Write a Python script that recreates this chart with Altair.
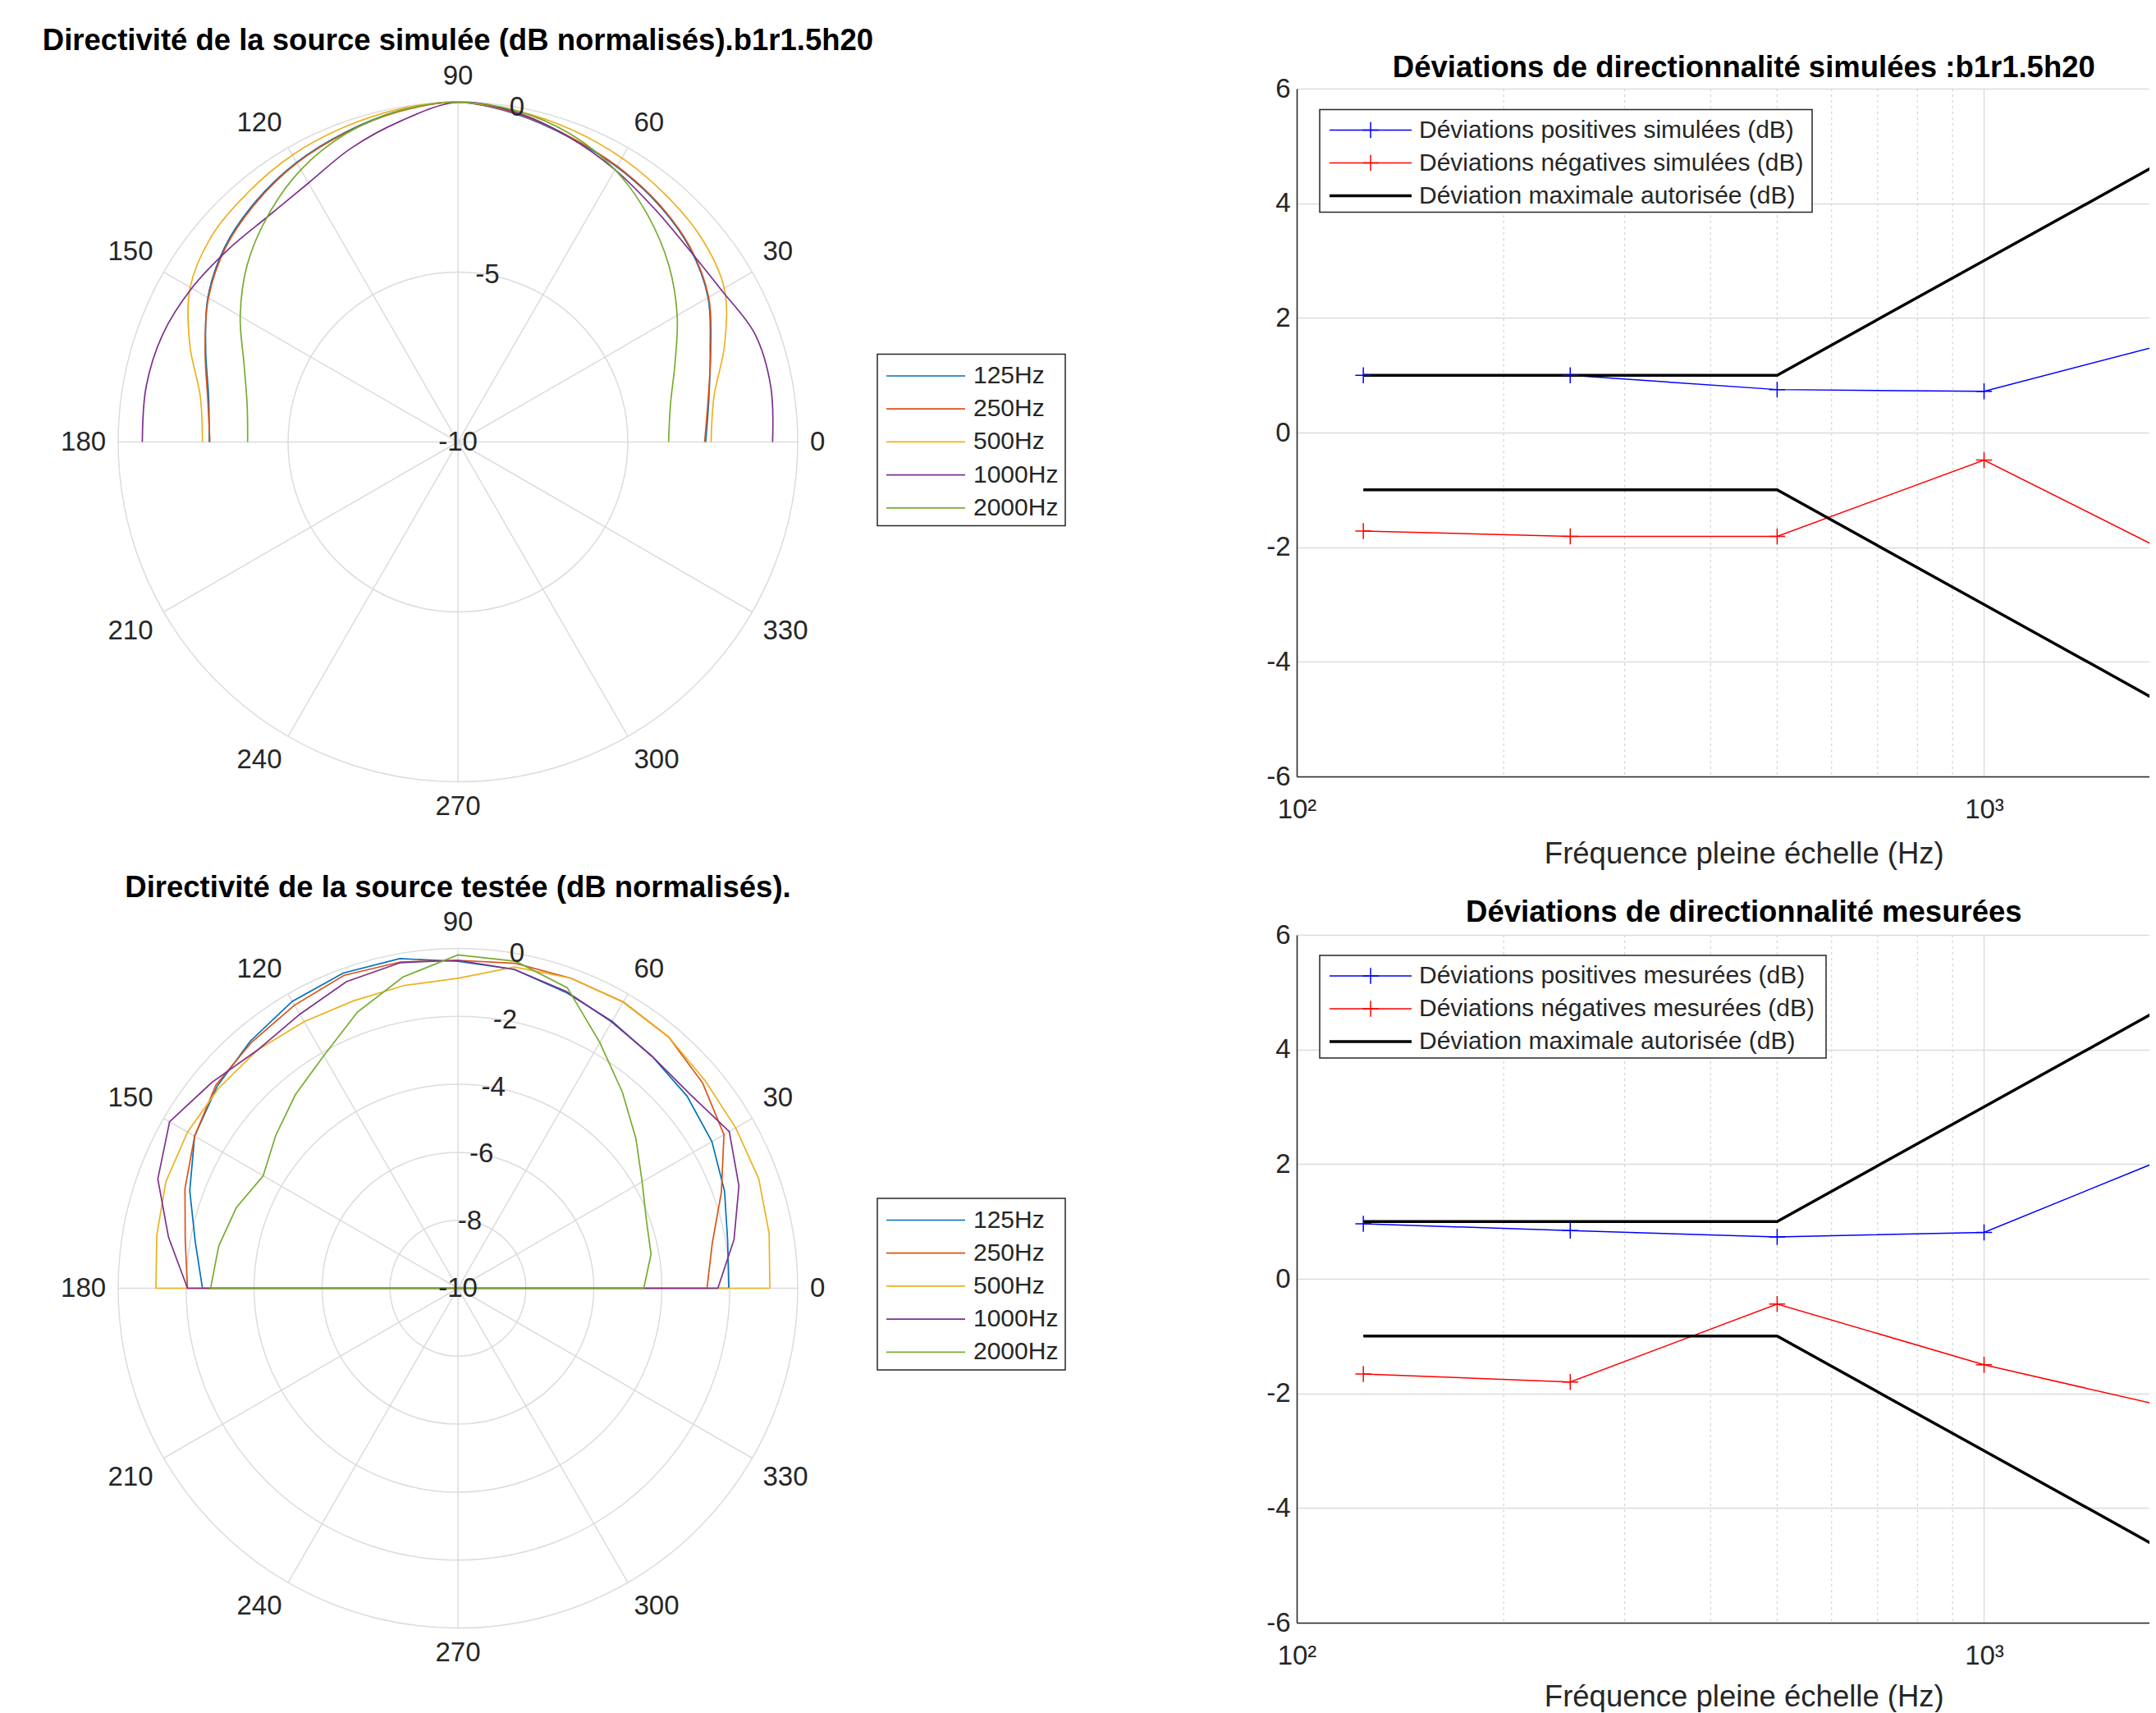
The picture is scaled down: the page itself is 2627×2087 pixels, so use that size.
import math
import altair as alt
import pandas as pd

FONT = "Liberation Sans"
TXT = "#262626"
TITLE_C = "#000000"
GRID = "#dcdcdc"
MINOR = "#d4d4d4"

# ---------------- polar data (dB normalisés, angle in degrees) ----------------
angles = list(range(0, 181, 10))
freq_labels = ["125Hz", "250Hz", "500Hz", "1000Hz", "2000Hz"]
freq_colors = ["#0072BD", "#D95319", "#EDB120", "#7E2F8E", "#77AC30"]

sim_125 = [-2.71, -2.50, -2.10, -1.50, -1.10, -0.85, -0.65, -0.45, -0.20, 0.00,
           -0.10, -0.30, -0.50, -0.75, -1.05, -1.50, -2.10, -2.55, -2.68]
sim_250 = [-2.74, -2.52, -2.08, -1.48, -1.08, -0.83, -0.63, -0.43, -0.18, 0.00,
           -0.12, -0.32, -0.52, -0.78, -1.08, -1.52, -2.08, -2.52, -2.70]
sim_500 = [-2.55, -2.35, -1.65, -0.95, -0.65, -0.50, -0.35, -0.22, -0.10, 0.00,
           -0.05, -0.15, -0.25, -0.40, -0.55, -0.90, -1.60, -2.30, -2.48]
sim_1000 = [-0.74, -0.65, -0.70, -1.05, -1.15, -1.02, -0.75, -0.45, -0.15, 0.00,
            -0.40, -0.80, -1.20, -1.32, -1.18, -0.95, -0.75, -0.68, -0.71]
sim_2000 = [-3.80, -3.65, -3.20, -2.55, -1.90, -1.30, -0.75, -0.35, -0.10, 0.00,
            -0.10, -0.35, -0.75, -1.30, -1.90, -2.60, -3.30, -3.70, -3.81]

mes_125 = [-2.03, -1.94, -1.65, -1.37, -1.20, -1.10, -0.93, -0.73, -0.47, -0.38,
           -0.15, -0.13, -0.25, -0.50, -0.75, -1.05, -1.60, -2.15, -2.48]
mes_250 = [-2.67, -2.40, -1.75, -0.96, -0.60, -0.35, -0.27, -0.29, -0.29, -0.35,
           -0.25, -0.20, -0.38, -0.55, -0.70, -1.05, -1.45, -1.85, -2.04]
mes_500 = [-0.82, -0.70, -0.58, -0.56, -0.50, -0.35, -0.28, -0.29, -0.40, -0.88,
           -0.95, -1.00, -0.94, -0.84, -0.82, -0.81, -0.85, -1.00, -1.11]
mes_1000 = [-2.35, -1.75, -1.20, -0.78, -1.10, -1.10, -0.95, -0.70, -0.47, -0.35,
            -0.27, -0.40, -0.69, -0.84, -0.56, -0.20, -0.60, -1.35, -2.04]
mes_2000 = [-4.53, -4.23, -4.10, -3.74, -3.16, -2.47, -1.65, -0.59, -0.23, -0.19,
            -0.70, -1.35, -2.10, -2.56, -3.00, -3.38, -3.06, -2.85, -2.72]

spoke_angles = list(range(0, 360, 30))
sim_rticks = [-10, -5, 0]
mes_rticks = [-10, -8, -6, -4, -2, 0]

# ---------------- deviation data ----------------
dev_freqs = [125, 250, 500, 1000, 2000]
sim_pos = [1.00, 1.00, 0.75, 0.72, 1.66]
sim_neg = [-1.72, -1.81, -1.81, -0.48, -2.29]
mes_pos = [0.96, 0.84, 0.73, 0.81, 2.28]
mes_neg = [-1.66, -1.80, -0.44, -1.50, -2.33]
max_dev_hi = [1, 1, 1, 3, 5]
max_dev_lo = [-1, -1, -1, -3, -5]
minor_freqs = [200, 300, 400, 500, 600, 700, 800, 900, 2000]
x_ticks = [100, 1000]
y_ticks = [-6, -4, -2, 0, 2, 4, 6]

sim_legend = ["Déviations positives simulées (dB)",
              "Déviations négatives simulées (dB)",
              "Déviation maximale autorisée (dB)"]
mes_legend = ["Déviations positives mesurées (dB)",
              "Déviations négatives mesurées (dB)",
              "Déviation maximale autorisée (dB)"]
dev_colors = ["#0000FF", "#FF0000", "#000000"]

# ---------------- layout constants ----------------
K = 414.0            # pixels per unit radius
PW, PH = 1100, 838   # polar view
CX, CY = 550.0, 430.5
DW = 1039            # visible width of deviation view (cut at the page edge)
DECADE = 837.5
F_EDGE = 10 ** (2 + DW / DECADE)
X_FULL_CENTER = DECADE * (math.log10(2000) - 2) / 2
RLAB = 1.036
CROSS = "M-1,0L1,0M0,-1L0,1"


def polar(curves, rticks, title, title_offset, closed, legend_top, interp):
    xs = alt.Scale(domain=[-CX / K, (PW - CX) / K], nice=False, zero=False)
    ys = alt.Scale(domain=[-(PH - CY) / K, CY / K], nice=False, zero=False)

    def X(f):
        return alt.X(f, type="quantitative", scale=xs, axis=None)

    def Y(f):
        return alt.Y(f, type="quantitative", scale=ys, axis=None)

    rows = []
    for lab, vals in zip(freq_labels, curves):
        for i, (a, v) in enumerate(zip(angles, vals)):
            rows.append({"freq": lab, "angle": a, "db": v, "seq": i})
        if closed:
            rows.append({"freq": lab, "angle": angles[0], "db": vals[0], "seq": len(angles)})
    cdf = pd.DataFrame(rows)

    rings = alt.Chart(pd.DataFrame({"db": [t for t in rticks if t > -10]})).transform_calculate(
        r="(datum.db + 10) / 10", z="0", sz=f"pow(2 * datum.r * {K}, 2)"
    ).mark_point(shape="circle", filled=False, color=GRID, strokeWidth=1.5, opacity=1).encode(
        x=X("z"), y=Y("z"), size=alt.Size("sz:Q", scale=None, legend=None)
    )

    spokes = alt.Chart(pd.DataFrame({"angle": spoke_angles})).transform_calculate(
        z="0", ex="cos(datum.angle * PI / 180)", ey="sin(datum.angle * PI / 180)"
    ).mark_rule(color=GRID, strokeWidth=1.5).encode(x=X("z"), y=Y("z"), x2="ex:Q", y2="ey:Q")

    lines = alt.Chart(cdf).transform_calculate(
        r="(datum.db + 10) / 10",
        px="datum.r * cos(datum.angle * PI / 180)",
        py="datum.r * sin(datum.angle * PI / 180)",
    ).mark_line(strokeWidth=1.7, interpolate=interp).encode(
        x=X("px"), y=Y("py"),
        color=alt.Color("freq:N", scale=alt.Scale(domain=freq_labels, range=freq_colors), legend=None),
        order="seq:Q",
    )

    adf = pd.DataFrame({"angle": spoke_angles, "lab": [str(a) for a in spoke_angles]})
    alab = alt.Chart(adf).transform_calculate(
        ca="cos(datum.angle * PI / 180)", sa="sin(datum.angle * PI / 180)",
        lx=f"{RLAB} * datum.ca", ly=f"{RLAB} * datum.sa",
    ).mark_text(
        font=FONT, fontSize=33, color=TXT,
        align={"expr": "datum.ca > 0.1 ? 'left' : (datum.ca < -0.1 ? 'right' : 'center')"},
        baseline={"expr": "datum.sa > 0.1 ? 'bottom' : (datum.sa < -0.1 ? 'top' : 'middle')"},
    ).encode(x=X("lx"), y=Y("ly"), text="lab:N")

    rdf = pd.DataFrame({"db": rticks, "lab": [str(t) for t in rticks]})
    rlab = alt.Chart(rdf).transform_calculate(
        r="(datum.db + 10) / 10",
        lx="datum.r * cos(80 * PI / 180)", ly="datum.r * sin(80 * PI / 180)",
    ).mark_text(font=FONT, fontSize=33, color=TXT, align="center", baseline="middle").encode(
        x=X("lx"), y=Y("ly"), text="lab:N"
    )

    ldf = pd.DataFrame({"lab": freq_labels, "col": freq_colors, "i": list(range(len(freq_labels)))})
    box = alt.Chart(pd.DataFrame({"a": [0]})).mark_rect(fill="white", stroke=TXT, strokeWidth=1.5).encode(
        x=alt.value(1061), x2=alt.value(1290), y=alt.value(legend_top), y2=alt.value(legend_top + 209)
    )
    lbase = alt.Chart(ldf).transform_calculate(py=f"{legend_top + 26.5} + 40.2 * datum.i")
    lrules = lbase.mark_rule(strokeWidth=1.7).encode(
        x=alt.value(1072), x2=alt.value(1168), y=alt.Y("py:Q", scale=None),
        color=alt.Color("col:N", scale=None),
    )
    ltext = lbase.mark_text(font=FONT, fontSize=30, color=TXT, align="left", baseline="middle").encode(
        x=alt.value(1178), y=alt.Y("py:Q", scale=None), text="lab:N"
    )

    return alt.layer(rings, spokes, lines, alab, rlab, box, lrules, ltext).properties(
        width=PW, height=PH,
        title=alt.TitleParams(title, font=FONT, fontSize=36.5, fontWeight="bold", color=TITLE_C,
                              offset=title_offset, anchor="middle", frame="group"),
    )


def dev(title, pos, neg, leg_labels, title_offset, box_w, box_top, xtitle_y):
    xs = alt.Scale(type="log", domain=[100, F_EDGE], nice=False)
    ys = alt.Scale(domain=[-6, 6], nice=False, zero=False)
    xaxis = alt.Axis(
        values=x_ticks, labelExpr="datum.value == 100 ? '10²' : '10³'", labelFlush=False,
        grid=True, gridColor=GRID, gridWidth=1.5, ticks=False,
        domainColor=TXT, domainWidth=1.5, labelFont=FONT, labelFontSize=33, labelColor=TXT,
        labelPadding=24, title="Fréquence pleine échelle (Hz)", titleFont=FONT, titleFontSize=36.5,
        titleFontWeight="normal", titleColor=TXT, titleX=X_FULL_CENTER, titleY=xtitle_y,
        titleBaseline="middle", titleAlign="center",
    )
    yaxis = alt.Axis(
        values=y_ticks, labelExpr="'' + datum.value", grid=True, gridColor=GRID, gridWidth=1.5,
        ticks=False, domainColor=TXT, domainWidth=1.5, labelFont=FONT, labelFontSize=33,
        labelColor=TXT, labelPadding=8, title=None,
    )
    rows = []
    for name, vals, col, sw in [("pos", pos, dev_colors[0], 1.5), ("neg", neg, dev_colors[1], 1.5),
                                ("hi", max_dev_hi, dev_colors[2], 3.5), ("lo", max_dev_lo, dev_colors[2], 3.5)]:
        for f, v in zip(dev_freqs, vals):
            rows.append({"series": name, "freq": f, "val": v, "col": col, "sw": sw})
    ddf = pd.DataFrame(rows)

    minor = alt.Chart(pd.DataFrame({"freq": minor_freqs})).mark_rule(
        color=MINOR, strokeWidth=1.2, strokeDash=[3, 4], clip=True
    ).encode(x=alt.X("freq:Q", scale=xs, axis=xaxis))

    lines = alt.Chart(ddf).mark_line(clip=True).encode(
        x=alt.X("freq:Q", scale=xs, axis=xaxis), y=alt.Y("val:Q", scale=ys, axis=yaxis),
        color=alt.Color("col:N", scale=None), detail="series:N",
        strokeWidth=alt.StrokeWidth("sw:Q", scale=None), order="freq:Q",
    )
    marks = alt.Chart(ddf).transform_filter(
        "datum.series == 'pos' || datum.series == 'neg'"
    ).mark_point(shape=CROSS, filled=False, size=380, strokeWidth=1.5, opacity=1, clip=True).encode(
        x=alt.X("freq:Q", scale=xs, axis=xaxis), y=alt.Y("val:Q", scale=ys, axis=yaxis),
        color=alt.Color("col:N", scale=None),
    )

    ldf = pd.DataFrame({"lab": leg_labels, "col": dev_colors, "sw": [1.5, 1.5, 3.5],
                        "mk": [1, 1, 0], "i": [0, 1, 2]})
    box = alt.Chart(pd.DataFrame({"a": [0]})).mark_rect(fill="white", stroke=TXT, strokeWidth=1.5).encode(
        x=alt.value(28), x2=alt.value(28 + box_w), y=alt.value(box_top), y2=alt.value(box_top + 125)
    )
    lbase = alt.Chart(ldf).transform_calculate(py=f"{box_top + 25} + 40 * datum.i")
    lrules = lbase.mark_rule().encode(
        x=alt.value(40), x2=alt.value(140), y=alt.Y("py:Q", scale=None),
        color=alt.Color("col:N", scale=None), strokeWidth=alt.StrokeWidth("sw:Q", scale=None),
    )
    lmarks = lbase.transform_filter("datum.mk == 1").mark_point(
        shape=CROSS, filled=False, size=380, strokeWidth=1.5, opacity=1
    ).encode(x=alt.value(90), y=alt.Y("py:Q", scale=None), color=alt.Color("col:N", scale=None))
    ltext = lbase.mark_text(font=FONT, fontSize=30, color=TXT, align="left", baseline="middle").encode(
        x=alt.value(149), y=alt.Y("py:Q", scale=None), text="lab:N"
    )

    return alt.layer(minor, lines, marks, box, lrules, lmarks, ltext).properties(
        width=DW, height=PH,
        title=alt.TitleParams(title, font=FONT, fontSize=36.5, fontWeight="bold", color=TITLE_C,
                              offset=title_offset, anchor="middle", frame="group",
                              dx=X_FULL_CENTER - DW / 2),
    )


p1 = polar([sim_125, sim_250, sim_500, sim_1000, sim_2000], sim_rticks,
           "Directivité de la source simulée (dB normalisés).b1r1.5h20", 8.5, False, 323.5, "catmull-rom")
d1 = dev("Déviations de directionnalité simulées :b1r1.5h20", sim_pos, sim_neg, sim_legend,
         -9.5, 600, 25.5, 94)
p2 = polar([mes_125, mes_250, mes_500, mes_1000, mes_2000], mes_rticks,
           "Directivité de la source testée (dB normalisés).", 7, True, 321, "linear")
d2 = dev("Déviations de directionnalité mesurées", mes_pos, mes_neg, mes_legend,
         -7.5, 617, 25, 90)

chart = alt.concat(
    p1, d1, p2, d2, columns=2, spacing={"row": 193, "column": 472}, bounds="flush"
).properties(
    padding={"left": 0, "right": 0, "top": 23, "bottom": 0}
).configure(background="white", font=FONT).configure_view(stroke=None)

chart.save("out.html", embed_options={"renderer": "svg", "actions": False})
